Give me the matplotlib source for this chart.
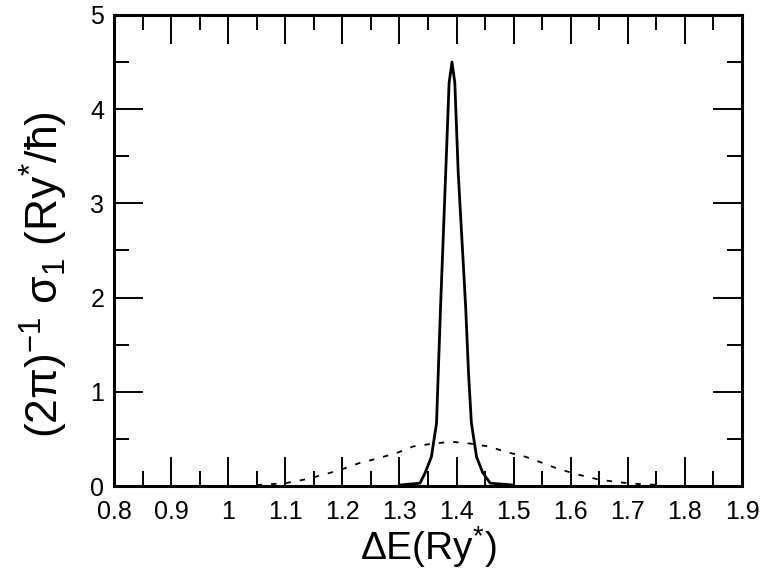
import matplotlib
matplotlib.use("Agg")
import matplotlib.pyplot as plt
from matplotlib.ticker import MultipleLocator, FixedLocator

plt.rcParams['font.family'] = ['Liberation Sans', 'DejaVu Sans']
plt.rcParams['mathtext.fontset'] = 'custom'
plt.rcParams['mathtext.rm'] = 'Liberation Sans'
plt.rcParams['mathtext.it'] = 'Liberation Sans'
plt.rcParams['mathtext.bf'] = 'Liberation Sans:bold'

# narrow peak (solid)
solid_x = [1.30, 1.336, 1.345, 1.356, 1.365, 1.368, 1.372, 1.381, 1.387, 1.392,
           1.397, 1.403, 1.416, 1.421, 1.426, 1.435, 1.446, 1.459, 1.50]
solid_y = [0.01, 0.03, 0.14, 0.31, 0.67, 1.2, 1.9, 3.32, 4.28, 4.5,
           4.28, 3.32, 1.9, 1.2, 0.67, 0.31, 0.14, 0.03, 0.01]

# broad curve (dashed)
dash_x = [1.05, 1.10, 1.135, 1.167, 1.196, 1.228, 1.26, 1.295, 1.324, 1.359, 1.391,
          1.424, 1.456, 1.488, 1.521, 1.548, 1.579, 1.614, 1.648, 1.683, 1.72, 1.76]
dash_y = [0.01, 0.03, 0.07, 0.12, 0.17, 0.24, 0.29, 0.35, 0.42, 0.45, 0.47,
          0.45, 0.42, 0.36, 0.31, 0.25, 0.18, 0.12, 0.07, 0.04, 0.02, 0.01]

xticks = [0.8, 0.9, 1.0, 1.1, 1.2, 1.3, 1.4, 1.5, 1.6, 1.7, 1.8, 1.9]
xtick_labels = ["0.8", "0.9", "1", "1.1", "1.2", "1.3", "1.4", "1.5", "1.6", "1.7", "1.8", "1.9"]
yticks = [0, 1, 2, 3, 4, 5]

fig = plt.figure(figsize=(7.67, 5.74), dpi=100)
ax = fig.add_axes([0.1486, 0.1533, 0.8188, 0.8206])

ax.plot(solid_x, solid_y, color='black', linewidth=2.0)
ax.plot(dash_x, dash_y, color='black', linewidth=1.3, dashes=(3, 5))

ax.set_xlim(0.8, 1.9)
ax.set_ylim(0, 5)
ax.xaxis.set_major_locator(FixedLocator(xticks))
ax.set_xticklabels(xtick_labels)
ax.xaxis.set_minor_locator(MultipleLocator(0.05))
ax.yaxis.set_major_locator(FixedLocator(yticks))
ax.yaxis.set_minor_locator(MultipleLocator(0.5))

for s in ax.spines.values():
    s.set_linewidth(2.2)

ax.tick_params(which='both', direction='in', top=True, right=True, width=1.4)
ax.tick_params(which='major', length=21, labelsize=18)
ax.tick_params(axis='x', which='major', pad=10)
ax.tick_params(axis='y', which='major', pad=7)
ax.tick_params(which='minor', length=11)

ax.set_xlabel(r'$\Delta$E(Ry$^{*}$)', fontsize=28, labelpad=0)
ax.set_ylabel(r'$(2\pi)^{-1}\,\,\sigma_{1}\,\,(\mathrm{Ry}^{*}/\hbar)$', fontsize=32)
ax.yaxis.set_label_coords(-0.07, 0.45)

fig.savefig('out.png', dpi=100)
